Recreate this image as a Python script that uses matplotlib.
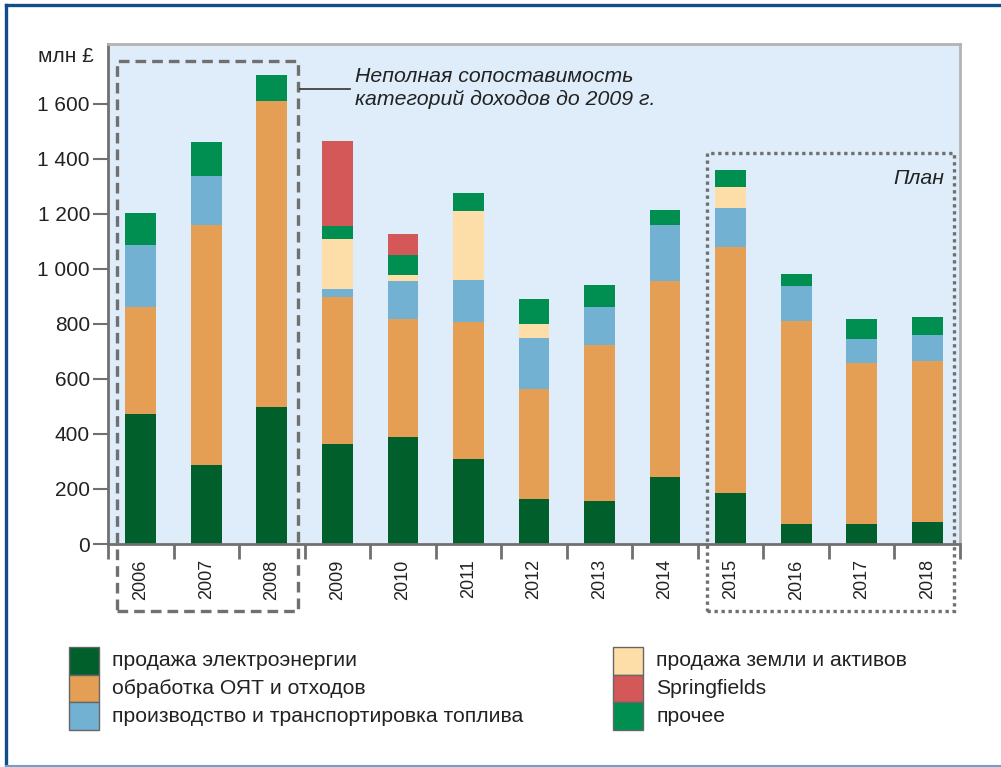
import numpy as np
import matplotlib.pyplot as plt
from matplotlib.patches import Rectangle
from matplotlib.lines import Line2D

plt.rcParams['font.family'] = ['Liberation Sans', 'DejaVu Sans']

# --- данные (млн £) ---
years = ['2006', '2007', '2008', '2009', '2010', '2011', '2012',
         '2013', '2014', '2015', '2016', '2017', '2018']
elec = [474, 288, 499, 365, 388, 310, 164, 157, 245, 187, 74, 74, 81]
oyat = [386, 873, 1111, 532, 431, 498, 401, 565, 712, 894, 736, 583, 583]
fuel = [228, 178, 0, 31, 138, 153, 185, 138, 204, 142, 129, 90, 97]
land = [0, 0, 0, 182, 22, 251, 51, 0, 0, 76, 0, 0, 0]
other = [115, 124, 97, 47, 73, 65, 91, 83, 54, 62, 43, 72, 66]
springfields = [0, 0, 0, 307, 76, 0, 0, 0, 0, 0, 0, 0, 0]

yticks = [0, 200, 400, 600, 800, 1000, 1200, 1400, 1600]
ytick_labels = ['0', '200', '400', '600', '800', '1 000', '1 200', '1 400', '1 600']

series = [
    ('продажа электроэнергии', elec, '#005f2b'),
    ('обработка ОЯТ и отходов', oyat, '#e49f55'),
    ('производство и транспортировка топлива', fuel, '#72b1d1'),
    ('продажа земли и активов', land, '#fddea9'),
    ('прочее', other, '#008f51'),
    ('Springfields', springfields, '#d45858'),
]
legend_col1 = ['продажа электроэнергии', 'обработка ОЯТ и отходов',
               'производство и транспортировка топлива']
legend_col2 = ['продажа земли и активов', 'Springfields', 'прочее']

W, H = 1001, 767
GRAY = '#707070'
TXT = '#222222'


def fx(px):
    return px / W


def fy(py):
    return 1 - py / H


fig = plt.figure(figsize=(W / 100, H / 100), dpi=100)
ax = fig.add_axes([fx(108), fy(544), 852 / W, 500 / H])
ax.set_facecolor('#deedf9')

x = np.arange(len(years))
bottom = np.zeros(len(years))
colors = {}
for name, vals, col in series:
    vals = np.array(vals, dtype=float)
    ax.bar(x, vals, bottom=bottom, width=0.47, color=col, linewidth=0)
    bottom += vals
    colors[name] = col

ax.set_xlim(-0.5, len(years) - 0.5)
ax.set_ylim(0, 1818)

ax.set_yticks(yticks)
ax.set_yticklabels(ytick_labels, fontsize=15, color=TXT)
ax.tick_params(axis='y', length=11, width=1.5, color=GRAY, pad=2)

ax.set_xticks(x)
ax.set_xticklabels(years, rotation=90, fontsize=13, color=TXT)
ax.tick_params(axis='x', which='major', length=0, pad=11)
ax.set_xticks(np.arange(-0.5, len(years)), minor=True)
ax.tick_params(axis='x', which='minor', length=11, width=2, color=GRAY)

for s in ['left', 'bottom']:
    ax.spines[s].set_color(GRAY)
    ax.spines[s].set_linewidth(2)
for s in ['top', 'right']:
    ax.spines[s].set_color('#b3b3b3')
    ax.spines[s].set_linewidth(2)

fig.text(fx(94), fy(56), 'млн £', fontsize=15, color=TXT, ha='right', va='center')

# рамки
ax.add_patch(Rectangle((9 / 852, -66.5 / 500), 181 / 852, 549.5 / 500,
                       transform=ax.transAxes, fill=False, edgecolor=GRAY,
                       linewidth=2.4, linestyle=(0, (3.2, 1.8)), clip_on=False))
ax.add_patch(Rectangle((599 / 852, -66.5 / 500), 247 / 852, 457.5 / 500,
                       transform=ax.transAxes, fill=False, edgecolor=GRAY,
                       linewidth=2.4, linestyle=(0, (1, 1.1)), clip_on=False))

ax.add_line(Line2D([192 / 852, 242 / 852], [455 / 500, 455 / 500],
                   transform=ax.transAxes, color='#333333', linewidth=1.2, clip_on=False))
fig.text(fx(355), fy(88), 'Неполная сопоставимость\nкатегорий доходов до 2009 г.',
         fontsize=15.3, style='italic', color=TXT, ha='left', va='center', linespacing=1.2)
fig.text(fx(944), fy(178), 'План', fontsize=15.3, style='italic', color=TXT,
         ha='right', va='center')

# легенда
for col_names, px0 in [(legend_col1, 69), (legend_col2, 613)]:
    for i, name in enumerate(col_names):
        py = 647 + i * 27.7
        fig.add_artist(Rectangle((fx(px0), fy(py + 27.7)), 30 / W, 27.7 / H,
                                 transform=fig.transFigure, facecolor=colors[name],
                                 edgecolor='#666666', linewidth=1))
        fig.text(fx(px0 + 43), fy(py + 13.8), name, fontsize=15.2, color=TXT,
                 ha='left', va='center')

# внешняя рамка
fig.add_artist(Line2D([fx(5.5), fx(1001)], [fy(4.5), fy(4.5)], color='#114d8c', linewidth=2.4))
fig.add_artist(Line2D([fx(5.5), fx(5.5)], [fy(4.5), fy(765.5)], color='#114d8c', linewidth=2.4))
fig.add_artist(Line2D([fx(5.5), fx(1001)], [fy(765.5), fy(765.5)], color='#6f9fcc', linewidth=1.5))

fig.savefig('out.png', dpi=100)
